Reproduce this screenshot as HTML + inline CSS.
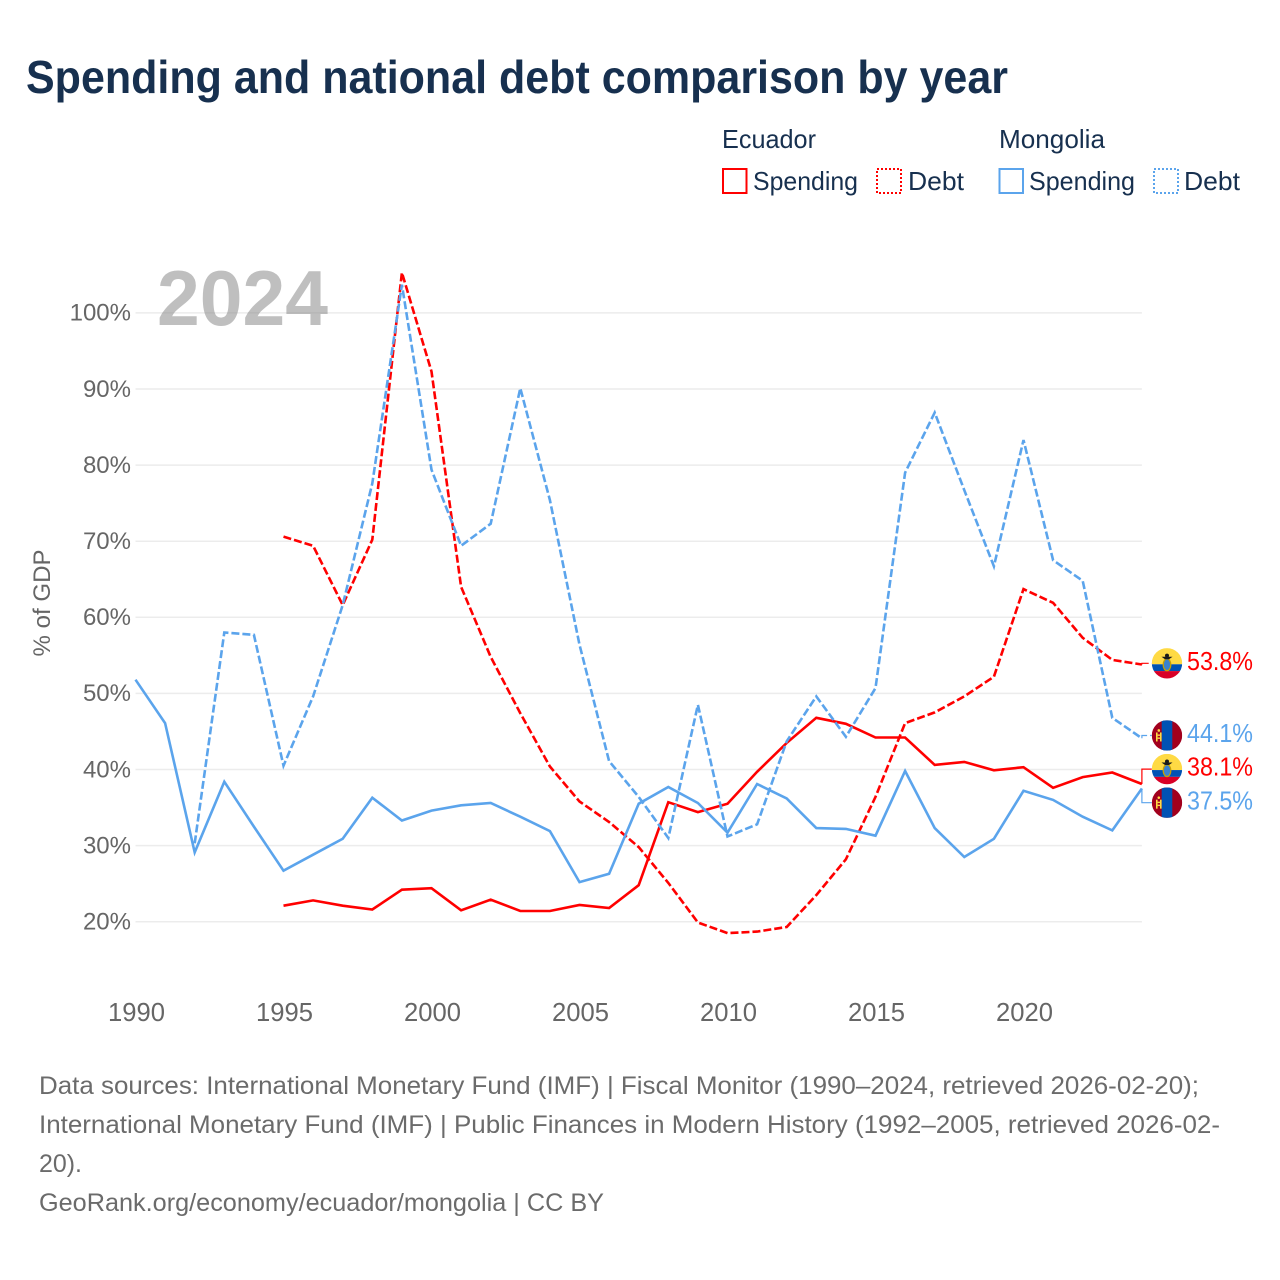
<!DOCTYPE html>
<html lang="en">
<head>
<meta charset="utf-8">
<title>Spending and national debt comparison by year</title>
<style>
html,body{margin:0;padding:0;background:#fff;width:1280px;height:1280px;overflow:hidden}
svg{display:block}
text{font-family:"Liberation Sans",sans-serif}
</style>
</head>
<body>
<svg id="chart" xmlns="http://www.w3.org/2000/svg" width="1280" height="1280" viewBox="0 0 1280 1280">
  <text x="26" y="93" font-size="46" font-weight="700" fill="#17304f" textLength="982" lengthAdjust="spacingAndGlyphs">Spending and national debt comparison by year</text>

  <g fill="#17304f" font-size="26">
    <text x="722" y="148" textLength="94" lengthAdjust="spacingAndGlyphs">Ecuador</text>
    <text x="999" y="148" textLength="106" lengthAdjust="spacingAndGlyphs">Mongolia</text>
    <g>
      <rect x="723" y="169" width="23.5" height="24" fill="none" stroke="#ff0000" stroke-width="2"/>
      <text x="753" y="190" textLength="105" lengthAdjust="spacingAndGlyphs">Spending</text>
    </g>
    <g>
      <rect x="877" y="169" width="24" height="24" fill="none" stroke="#ff0000" stroke-width="2" stroke-dasharray="2 2"/>
      <text x="908" y="190" textLength="56" lengthAdjust="spacingAndGlyphs">Debt</text>
    </g>
    <g>
      <rect x="999.5" y="169" width="23.5" height="24" fill="none" stroke="#5ba4ec" stroke-width="2"/>
      <text x="1029" y="190" textLength="106" lengthAdjust="spacingAndGlyphs">Spending</text>
    </g>
    <g>
      <rect x="1154" y="169" width="24" height="24" fill="none" stroke="#5ba4ec" stroke-width="2" stroke-dasharray="2 2"/>
      <text x="1184" y="190" textLength="56" lengthAdjust="spacingAndGlyphs">Debt</text>
    </g>
  </g>

  <g id="grid"></g>
  <text x="157" y="325" font-size="78" font-weight="700" fill="#808080" fill-opacity="0.5" textLength="171" lengthAdjust="spacingAndGlyphs">2024</text>
  <g id="yTicks"></g>
  <g id="xTicks"></g>
  <text transform="translate(50,603) rotate(-90)" text-anchor="middle" font-size="24" fill="#666" textLength="107" lengthAdjust="spacingAndGlyphs">% of GDP</text>
  <g id="series"></g>
  <g id="endLabels"></g>

  <g font-size="25" fill="#6b6b6b">
    <text x="39" y="1094" textLength="1160" lengthAdjust="spacingAndGlyphs">Data sources: International Monetary Fund (IMF) | Fiscal Monitor (1990–2024, retrieved 2026-02-20);</text>
    <text x="39" y="1133" textLength="1181" lengthAdjust="spacingAndGlyphs">International Monetary Fund (IMF) | Public Finances in Modern History (1992–2005, retrieved 2026-02-</text>
    <text x="39" y="1172" textLength="43" lengthAdjust="spacingAndGlyphs">20).</text>
    <text x="39" y="1211" textLength="565" lengthAdjust="spacingAndGlyphs">GeoRank.org/economy/ecuador/mongolia | CC BY</text>
  </g>
</svg>
<script>
const firstYear = 1990;
const yTickValues = [20, 30, 40, 50, 60, 70, 80, 90, 100];
const xTickValues = [1990, 1995, 2000, 2005, 2010, 2015, 2020];

const ecuadorSpending = [null, null, null, null, null, 22.1, 22.8, 22.1, 21.6, 24.2, 24.4, 21.5, 22.9, 21.4, 21.4, 22.2, 21.8, 24.8, 35.7, 34.4, 35.5, 39.7, 43.5, 46.8, 46.0, 44.2, 44.2, 40.6, 41.0, 39.9, 40.3, 37.6, 39.0, 39.6, 38.1];
const ecuadorDebt = [null, null, null, null, null, 70.6, 69.4, 61.6, 70.2, 105.3, 92.3, 64.0, 54.8, 47.4, 40.4, 35.8, 33.1, 29.8, 25.1, 19.9, 18.5, 18.7, 19.3, 23.5, 28.2, 36.4, 46.1, 47.5, 49.6, 52.2, 63.7, 61.9, 57.3, 54.4, 53.8];
const mongoliaSpending = [51.8, 46.1, 29.1, 38.4, 32.5, 26.7, 28.8, 30.9, 36.3, 33.3, 34.6, 35.3, 35.6, 33.8, 31.9, 25.2, 26.3, 35.5, 37.7, 35.6, 31.7, 38.1, 36.2, 32.3, 32.2, 31.3, 39.8, 32.3, 28.5, 30.9, 37.2, 36.0, 33.8, 32.0, 37.5];
const mongoliaDebt = [null, null, 30.3, 58.0, 57.7, 40.5, 49.6, 61.6, 77.6, 103.7, 79.4, 69.4, 72.3, 90.1, 75.4, 56.4, 41.1, 36.4, 31.0, 48.5, 31.2, 32.8, 43.7, 49.6, 44.3, 50.7, 79.0, 86.9, 76.7, 66.7, 83.3, 67.5, 64.8, 46.8, 44.1];

const NS = 'http://www.w3.org/2000/svg';
const plotLeft = 135.5, yearStep = 29.6, y20 = 921.7, pctStep = 7.61;
const xScale = year => plotLeft + (year - firstYear) * yearStep;
const yScale = v => y20 - (v - 20) * pctStep;
const lastYear = firstYear + mongoliaSpending.length - 1;
const plotRight = xScale(lastYear);
const RED = '#ff0000', BLUE = '#5ba4ec';

function make(tag, attrs, parent, txt) {
  const el = document.createElementNS(NS, tag);
  for (const k in attrs) el.setAttribute(k, attrs[k]);
  if (txt !== undefined) el.textContent = txt;
  parent.appendChild(el);
  return el;
}

const gridG = document.getElementById('grid');
const yG = document.getElementById('yTicks');
yTickValues.forEach(v => {
  const line = make('line', {x1: plotLeft, x2: plotRight, y1: yScale(v), y2: yScale(v), stroke: '#ececec', 'stroke-width': 1.5}, gridG);
  
  
  const t = make('text', {x: 131, y: yScale(v) + 7.8, 'text-anchor': 'end', 'font-size': 24, fill: '#666'}, yG, v + '%');
  
  
});

const xG = document.getElementById('xTicks');
xTickValues.forEach(yr => {
  const t = make('text', {x: xScale(yr) + 1, y: 1021, 'text-anchor': 'middle', 'font-size': 25.6, fill: '#666'}, xG, yr);
  
  
});

const seriesList = [
  {key: 'ecuador-spending', values: ecuadorSpending, color: RED, dash: null, flag: 'ecuador'},
  {key: 'ecuador-debt', values: ecuadorDebt, color: RED, dash: '8 3', flag: 'ecuador'},
  {key: 'mongolia-spending', values: mongoliaSpending, color: BLUE, dash: null, flag: 'mongolia'},
  {key: 'mongolia-debt', values: mongoliaDebt, color: BLUE, dash: '8 3', flag: 'mongolia'}
];

const seriesG = document.getElementById('series');
seriesList.forEach(s => {
  let d = '';
  s.values.forEach((v, i) => {
    if (v === null) return;
    d += (d ? 'L' : 'M') + xScale(firstYear + i).toFixed(1) + ',' + yScale(v).toFixed(1);
  });
  const attrs = {d: d, fill: 'none', stroke: s.color, 'stroke-width': 2.6, 'stroke-linejoin': 'miter'};
  if (s.dash) attrs['stroke-dasharray'] = s.dash;
  const p = make('path', attrs, seriesG);
  
  
});

/* End labels: spread apart so flags never overlap */
const minGap = 33.6;
const labelShift = -1.2;
const ends = seriesList.map(s => {
  const v = s.values[s.values.length - 1];
  return {s: s, v: v, y: yScale(v), ly: yScale(v)};
}).sort((a, b) => a.y - b.y);
let clusters = ends.map(e => ({items: [e], mean: e.y}));
let merged = true;
while (merged) {
  merged = false;
  for (let i = 0; i < clusters.length - 1; i++) {
    const a = clusters[i], b = clusters[i + 1];
    const aBottom = a.mean + (a.items.length - 1) * minGap / 2;
    const bTop = b.mean - (b.items.length - 1) * minGap / 2;
    if (bTop - aBottom < minGap) {
      const items = a.items.concat(b.items);
      clusters.splice(i, 2, {items: items, mean: items.reduce((t, e) => t + e.y, 0) / items.length});
      merged = true;
      break;
    }
  }
}
clusters.forEach(c => c.items.forEach((e, i) => {
  e.ly = c.mean + (i - (c.items.length - 1) / 2) * minGap + labelShift;
}));

const labelG = document.getElementById('endLabels');
const flagCx = 1167, flagR = 15.2;

function drawFlag(kind, cy, idx, parent) {
  const clipId = 'flag-clip-' + idx;
  const clip = make('clipPath', {id: clipId}, parent);
  make('circle', {cx: flagCx, cy: cy, r: flagR}, clip);
  const g = make('g', {'clip-path': 'url(#' + clipId + ')'}, parent);
  
  
  const L = flagCx - flagR, T = cy - flagR, W = flagR * 2;
  if (kind === 'ecuador') {
    make('rect', {x: L, y: T, width: W, height: 16.2, fill: '#ffda44'}, g);
    make('rect', {x: L, y: T + 16.2, width: W, height: 6.8, fill: '#0052b4'}, g);
    make('rect', {x: L, y: T + 23, width: W, height: 8.4, fill: '#d80027'}, g);
    make('ellipse', {cx: flagCx, cy: cy + 1.5, rx: 3.8, ry: 6, fill: '#3b82d0', stroke: '#c8a000', 'stroke-width': 1.3}, g);
    make('polygon', {points: [flagCx - 5.5, cy - 6.5, flagCx + 5.5, cy - 6.5, flagCx + 2, cy - 4, flagCx - 2, cy - 4].join(' '), fill: '#1a1a1a'}, g);
    make('circle', {cx: flagCx, cy: cy - 7.6, r: 2, fill: '#1a1a1a'}, g);
  } else {
    make('rect', {x: L, y: T, width: W, height: W, fill: '#a2001d'}, g);
    make('rect', {x: flagCx - 5.3, y: T, width: 10.6, height: W, fill: '#0052b4'}, g);
    make('rect', {x: L + 4.2, y: cy - 3, width: 1.6, height: 9, fill: '#ffda44'}, g);
    make('rect', {x: L + 8.2, y: cy - 3, width: 1.6, height: 9, fill: '#ffda44'}, g);
    make('rect', {x: L + 5.8, y: cy - 1, width: 2.4, height: 1.4, fill: '#ffda44'}, g);
    make('rect', {x: L + 5.8, y: cy + 2, width: 2.4, height: 1.4, fill: '#ffda44'}, g);
    make('circle', {cx: L + 7, cy: cy - 5, r: 1.3, fill: '#ffda44'}, g);
  }
}

ends.forEach((e, i) => {
  const attrs = {d: 'M' + plotRight + ',' + e.y.toFixed(1) + 'V' + e.ly.toFixed(1) + 'H' + (flagCx - flagR), fill: 'none', stroke: e.s.color, 'stroke-width': 1.2};
  if (e.s.dash) attrs['stroke-dasharray'] = '8 3';
  const c = make('path', attrs, labelG);
  
  
  drawFlag(e.s.flag, e.ly, i, labelG);
  const t = make('text', {x: 1187, y: e.ly + 6.6, 'font-size': 25.5, fill: e.s.color, textLength: 66, lengthAdjust: 'spacingAndGlyphs'}, labelG, e.v.toFixed(1) + '%');
  
  
});
</script>
</body>
</html>
